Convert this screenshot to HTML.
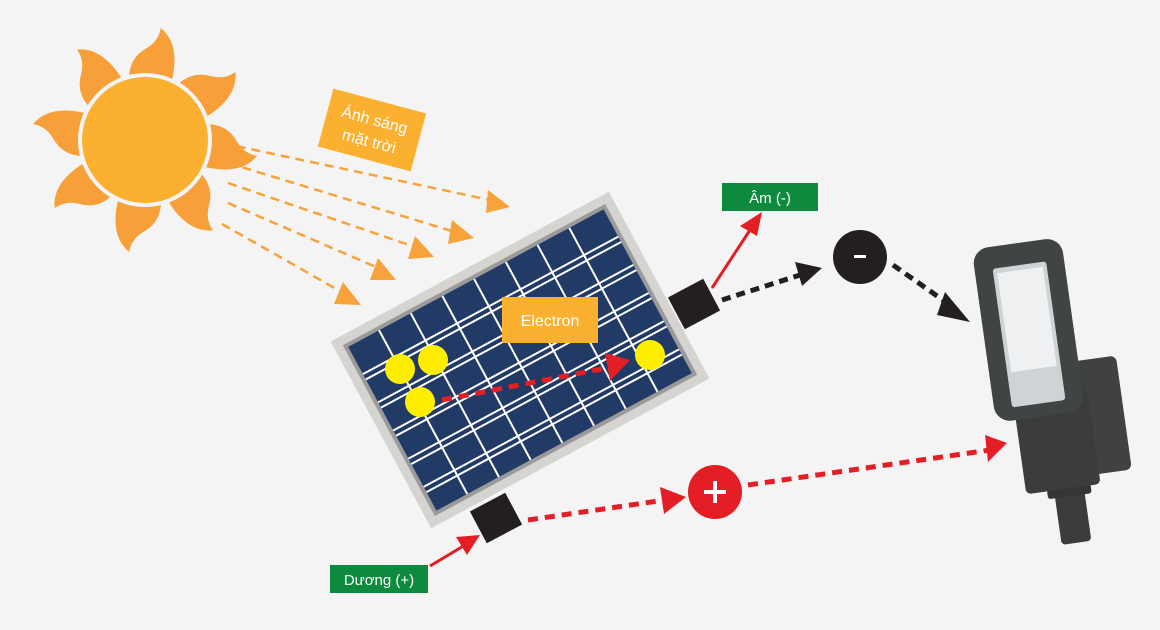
<!DOCTYPE html>
<html><head><meta charset="utf-8"><style>
html,body{margin:0;padding:0;background:#f4f4f4;}
svg{display:block}
text{font-family:"Liberation Sans","DejaVu Sans",sans-serif;}
</style></head><body>
<svg width="1160" height="630" viewBox="0 0 1160 630" xmlns="http://www.w3.org/2000/svg">
<rect width="1160" height="630" fill="#f4f4f4"/>
<!-- sun rays -->
<g fill="#f7a03a" transform="translate(145,140) rotate(5)">
<g id="fl"><path d="M-21,-58 Q-24,-80 -6,-92 Q5,-100 6,-113 Q28,-98 21,-58 Z"/></g>
<use href="#fl" transform="rotate(45)"/>
<use href="#fl" transform="rotate(90)"/>
<use href="#fl" transform="rotate(135)"/>
<use href="#fl" transform="rotate(180)"/>
<use href="#fl" transform="rotate(225)"/>
<use href="#fl" transform="rotate(270)"/>
<use href="#fl" transform="rotate(315)"/>
</g>
<circle cx="145" cy="140" r="67" fill="#f4f4f4"/>
<circle cx="145" cy="140" r="63" fill="#fbb030"/>
<!-- orange rays -->
<g stroke="#f7a23a" stroke-width="2.5" stroke-dasharray="9,6" fill="none">
<line x1="222" y1="143" x2="490" y2="200"/>
<line x1="228" y1="163" x2="455" y2="232"/>
<line x1="228" y1="183" x2="418" y2="248"/>
<line x1="228" y1="203" x2="383" y2="270"/>
<line x1="222" y1="224" x2="345" y2="294"/>
</g>
<g fill="#f7a23a">
<polygon points="488,190 510,207 486,213"/>
<polygon points="452,220 474,238 448,244"/>
<polygon points="415,236 434,257 408,259"/>
<polygon points="378,258 396,280 370,280"/>
<polygon points="343,282 361,305 334,304"/>
</g>
<!-- label sun -->
<g transform="translate(372,130) rotate(15)">
<rect x="-48" y="-30" width="96" height="60" fill="#fbb030"/>
<text x="0" y="-5" font-size="16" fill="#fff" text-anchor="middle">Ánh sáng</text>
<text x="0" y="17" font-size="16" fill="#fff" text-anchor="middle">mặt trời</text>
</g>
<!-- panel -->
<g transform="translate(520,360) rotate(-28.3)">
<rect x="-158" y="-106" width="316" height="212" fill="#d6d4d1"/>
<rect x="-149" y="-97" width="298" height="194" fill="#9a9a9a"/>
<rect x="-145" y="-93" width="290" height="186" fill="#213a66"/>
<g stroke="#fff" stroke-width="2">
<line x1="-110" y1="-93" x2="-110" y2="93"/>
<line x1="-74" y1="-93" x2="-74" y2="93"/>
<line x1="-38" y1="-93" x2="-38" y2="93"/>
<line x1="-2" y1="-93" x2="-2" y2="93"/>
<line x1="34" y1="-93" x2="34" y2="93"/>
<line x1="70" y1="-93" x2="70" y2="93"/>
<line x1="106" y1="-93" x2="106" y2="93"/>
<line x1="-145" y1="-62" x2="145" y2="-62"/><line x1="-145" y1="-56" x2="145" y2="-56"/>
<line x1="-145" y1="-30" x2="145" y2="-30"/><line x1="-145" y1="-24" x2="145" y2="-24"/>
<line x1="-145" y1="2" x2="145" y2="2"/><line x1="-145" y1="8" x2="145" y2="8"/>
<line x1="-145" y1="34" x2="145" y2="34"/><line x1="-145" y1="40" x2="145" y2="40"/>
<line x1="-145" y1="66" x2="145" y2="66"/><line x1="-145" y1="72" x2="145" y2="72"/>
</g>
</g>
<rect x="502" y="297" width="96" height="46" fill="#fbb030"/>
<text x="550" y="326" font-size="16" fill="#fff" text-anchor="middle">Electron</text>
<circle cx="400" cy="369" r="15" fill="#ffee00"/>
<circle cx="433" cy="360" r="15" fill="#ffee00"/>
<circle cx="420" cy="402" r="15" fill="#ffee00"/>
<circle cx="650" cy="355" r="15" fill="#ffee00"/>
<line x1="442" y1="400" x2="612" y2="367" stroke="#e31e24" stroke-width="5" stroke-dasharray="10,7"/>
<polygon points="605,353 630,360 610,381" fill="#e31e24"/>
<!-- terminals -->
<rect x="-20" y="-18" width="40" height="36" fill="#231f20" transform="translate(694,304) rotate(-28)"/>
<rect x="-20" y="-18" width="40" height="36" fill="#231f20" transform="translate(496,518) rotate(-28)"/>
<!-- red arrows to labels -->
<line x1="712" y1="288" x2="750" y2="230" stroke="#e31e24" stroke-width="3"/>
<polygon points="762,212 740,226 757,236" fill="#e31e24"/>
<line x1="430" y1="566" x2="465" y2="545" stroke="#e31e24" stroke-width="3"/>
<polygon points="480,535 456,537 467,555" fill="#e31e24"/>
<rect x="722" y="183" width="96" height="28" fill="#0e8a3e"/>
<text x="770" y="203" font-size="15" fill="#fff" text-anchor="middle">Âm (-)</text>
<rect x="330" y="565" width="98" height="28" fill="#0e8a3e"/>
<text x="379" y="585" font-size="15" fill="#fff" text-anchor="middle">Dương (+)</text>
<!-- black dashed -->
<line x1="722" y1="300" x2="800" y2="275" stroke="#231f20" stroke-width="5" stroke-dasharray="9,6"/>
<polygon points="795,262 822,268 802,286" fill="#231f20"/>
<circle cx="860" cy="257" r="27" fill="#231f20"/>
<rect x="854" y="255" width="12" height="3" fill="#fff"/>
<line x1="893" y1="265" x2="950" y2="305" stroke="#231f20" stroke-width="5" stroke-dasharray="9,6"/>
<polygon points="945,292 970,322 937,315" fill="#231f20"/>
<!-- red dashed -->
<line x1="528" y1="520" x2="665" y2="500" stroke="#e31e24" stroke-width="5" stroke-dasharray="10,7"/>
<polygon points="660,487 686,497 664,514" fill="#e31e24"/>
<circle cx="715" cy="492" r="27" fill="#e31e24"/>
<rect x="713" y="481" width="4" height="22" fill="#fff"/><rect x="704" y="490" width="22" height="4" fill="#fff"/>
<line x1="748" y1="485" x2="990" y2="450" stroke="#e31e24" stroke-width="5" stroke-dasharray="10,7"/>
<polygon points="985,435 1007,443 988,462" fill="#e31e24"/>
<!-- lamp -->
<g transform="rotate(-8 1050 390)">
<rect x="1040" y="475" width="30" height="70" rx="4" fill="#3a3d3c"/>
<rect x="1033" y="488" width="44" height="10" rx="3" fill="#333635"/>
<rect x="1075" y="365" width="45" height="115" rx="6" fill="#3f4241"/>
<rect x="1012" y="395" width="75" height="95" rx="5" fill="#3a3d3c"/>
<rect x="992" y="240" width="90" height="175" rx="16" fill="#404443"/>
<rect x="1010" y="262" width="54" height="140" rx="3" fill="#cfd3d6"/>
<rect x="1014" y="267" width="46" height="100" fill="#eef0f2"/>
</g>
</svg>
</body></html>
